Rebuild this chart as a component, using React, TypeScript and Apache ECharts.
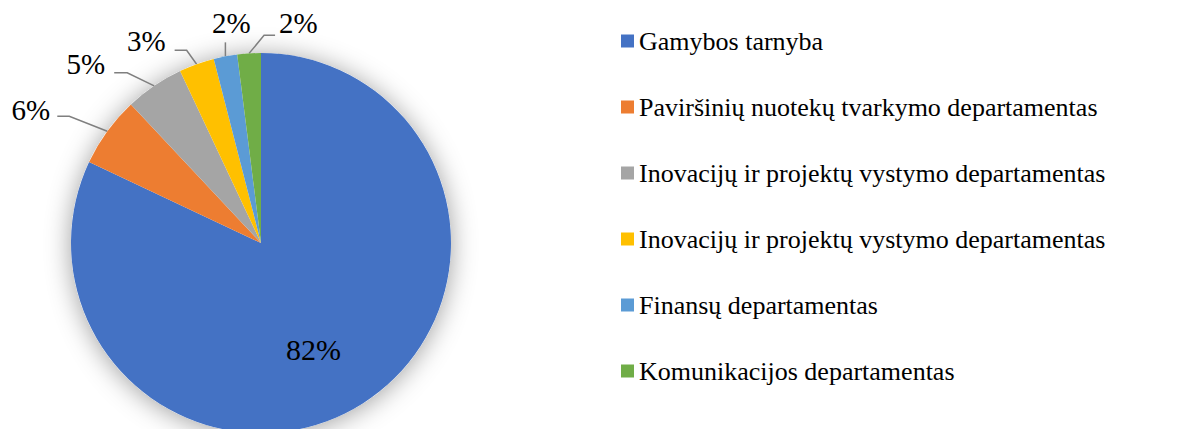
import React, { useEffect, useRef } from "react";
import * as echarts from "echarts";

const categories = [
  "Gamybos tarnyba",
  "Paviršinių nuotekų tvarkymo departamentas",
  "Inovacijų ir projektų vystymo departamentas",
  "Inovacijų ir projektų vystymo departamentas ",
  "Finansų departamentas",
  "Komunikacijos departamentas",
];
const values = [82, 6, 5, 3, 2, 2];
const legendLabels = [
  "Gamybos tarnyba",
  "Paviršinių nuotekų tvarkymo departamentas",
  "Inovacijų ir projektų vystymo departamentas",
  "Inovacijų ir projektų vystymo departamentas",
  "Finansų departamentas",
  "Komunikacijos departamentas",
];

// styling (not data)
const colors = ["#4472C4", "#ED7D31", "#A5A5A5", "#FFC000", "#5B9BD5", "#70AD47"];
const FONT = "Liberation Serif";
// leader-line shapes and label anchors, relative to the slice edge point computed by ECharts
type LeaderStyle = { p2: [number, number]; p3: [number, number]; label: [number, number]; align: string };
const leaderStyles: (LeaderStyle | null)[] = [
  null,
  { p2: [-38, -15], p3: [-50, -15], label: [-57, -21], align: "right" },
  { p2: [-27, -13], p3: [-40, -13], label: [-49, -22], align: "right" },
  { p2: [-10, -14], p3: [-22, -14], label: [-31, -23], align: "right" },
  { p2: [0, -14], p3: [0, -14], label: [6, -33], align: "center" },
  { p2: [15, -18], p3: [26, -18], label: [30, -30], align: "left" },
];
const insideLabelShift = 24;

export default function App() {
  const ref = useRef<HTMLDivElement>(null);
  useEffect(() => {
    if (!ref.current) return;
    const chart = echarts.init(ref.current, undefined, { renderer: "svg" });
    const total = values.reduce((a, b) => a + b, 0);
    chart.setOption({
      animation: false,
      backgroundColor: "#ffffff",
      color: colors,
      textStyle: { fontFamily: FONT },
      legend: {
        orient: "vertical",
        left: 616,
        top: 23,
        icon: "rect",
        itemWidth: 13,
        itemHeight: 13,
        itemGap: 40,
        itemTextGap: 6,
        data: categories,
        formatter: (name: string) => legendLabels[categories.indexOf(name)],
        textStyle: { fontFamily: FONT, fontSize: 26, color: "#000", lineHeight: 26 },
        selectedMode: false,
      },
      series: [
        {
          type: "pie",
          name: "shadow",
          silent: true,
          center: [261, 243],
          radius: 190,
          z: 1,
          label: { show: false },
          labelLine: { show: false },
          itemStyle: {
            color: "#ffffff",
            shadowBlur: 26,
            shadowColor: "rgba(0,0,0,0.38)",
            shadowOffsetX: 0,
            shadowOffsetY: 2,
          },
          data: [{ value: 1, name: "__bg" }],
        },
        {
          type: "pie",
          center: [261, 243],
          radius: 190,
          startAngle: 90,
          clockwise: true,
          z: 2,
          avoidLabelOverlap: false,
          itemStyle: { borderWidth: 0 },
          label: {
            show: true,
            position: "outside",
            fontFamily: FONT,
            fontSize: 29,
            color: "#000",
            formatter: (p: any) => Math.round((p.value / total) * 100) + "%",
          },
          labelLine: {
            show: true,
            length: 20,
            length2: 12,
            lineStyle: { color: "#7f7f7f", width: 1.5 },
          },
          labelLayout: (params: any) => {
            const i = params.dataIndex;
            const st = leaderStyles[i];
            if (!st) return { dy: insideLabelShift };
            const pts = params.labelLinePoints;
            if (!pts) return {};
            const [x1, y1] = pts[0];
            return {
              x: x1 + st.label[0],
              y: y1 + st.label[1],
              align: st.align,
              verticalAlign: "middle",
              labelLinePoints: [
                [x1, y1],
                [x1 + st.p2[0], y1 + st.p2[1]],
                [x1 + st.p3[0], y1 + st.p3[1]],
              ],
            };
          },
          emphasis: { disabled: true },
          data: categories.map((c, i) =>
            i === 0
              ? { name: c, value: values[i], label: { position: "inside", fontSize: 30, fontFamily: FONT }, labelLine: { show: false } }
              : { name: c, value: values[i] }
          ),
        },
      ],
    });
    return () => chart.dispose();
  }, []);
  return (
    <div
      ref={ref}
      style={{ position: "fixed", left: 0, top: 0, width: 1184, height: 429 }}
    />
  );
}
